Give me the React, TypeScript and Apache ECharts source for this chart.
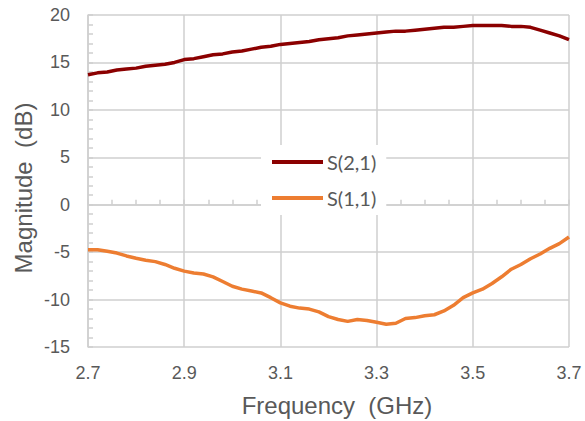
import React, { useEffect, useRef } from "react";
import * as echarts from "echarts";

const freqs: number[] = [
  2.70, 2.72, 2.74, 2.76, 2.78, 2.80, 2.82, 2.84, 2.86, 2.88,
  2.90, 2.92, 2.94, 2.96, 2.98, 3.00, 3.02, 3.04, 3.06, 3.08,
  3.10, 3.12, 3.14, 3.16, 3.18, 3.20, 3.22, 3.24, 3.26, 3.28,
  3.30, 3.32, 3.34, 3.36, 3.38, 3.40, 3.42, 3.44, 3.46, 3.48,
  3.50, 3.52, 3.54, 3.56, 3.58, 3.60, 3.62, 3.64, 3.66, 3.68,
  3.70,
];

const s21: number[] = [
  13.7, 13.9, 14.0, 14.2, 14.3, 14.4, 14.6, 14.7, 14.8, 15.0,
  15.3, 15.4, 15.6, 15.8, 15.9, 16.1, 16.2, 16.4, 16.6, 16.7,
  16.9, 17.0, 17.1, 17.2, 17.4, 17.5, 17.6, 17.8, 17.9, 18.0,
  18.1, 18.2, 18.3, 18.3, 18.4, 18.5, 18.6, 18.7, 18.7, 18.8,
  18.9, 18.9, 18.9, 18.9, 18.8, 18.8, 18.7, 18.4, 18.1, 17.8,
  17.4,
];

const s11: number[] = [
  -4.75, -4.75, -4.9, -5.1, -5.4, -5.65, -5.85, -6.0, -6.3, -6.7,
  -7.0, -7.2, -7.3, -7.6, -8.1, -8.6, -8.9, -9.1, -9.3, -9.8,
  -10.35, -10.7, -10.9, -11.0, -11.3, -11.8, -12.1, -12.3, -12.1, -12.2,
  -12.4, -12.6, -12.5, -12.0, -11.9, -11.7, -11.6, -11.2, -10.6, -9.8,
  -9.3, -8.9, -8.3, -7.6, -6.8, -6.3, -5.7, -5.2, -4.6, -4.1,
  -3.4,
];

const seriesNames: string[] = ["S(2,1)", "S(1,1)"];
const xTitle = "Frequency  (GHz)";
const yTitle = "Magnitude  (dB)";

export default function App() {
  const ref = useRef<HTMLDivElement>(null);
  useEffect(() => {
    document.body.style.margin = "0";
    if (!ref.current) return;
    const chart = echarts.init(ref.current, undefined, { renderer: "svg" });
    const gridColor = "#cfcfcf";
    const labelColor = "#595959";
    const axisFont = "Liberation Sans, Arial, sans-serif";
    chart.setOption({
      animation: false,
      backgroundColor: "#ffffff",
      grid: { left: 88, right: 16, top: 15, bottom: 74, containLabel: false },
      xAxis: {
        type: "value",
        min: 2.7,
        max: 3.7,
        interval: 0.2,
        axisLine: { show: true, lineStyle: { color: gridColor, width: 1.5 } },
        axisTick: { show: true, inside: true, length: 5, lineStyle: { color: gridColor, width: 1.5 } },
        minorTick: { show: true, splitNumber: 4, length: 5, lineStyle: { color: gridColor, width: 1.5 } },
        splitLine: { show: true, lineStyle: { color: gridColor, width: 1.5 } },
        axisLabel: {
          color: labelColor,
          fontSize: 18,
          fontFamily: axisFont,
          margin: 17,
          formatter: (v: number) => v.toFixed(1),
        },
      },
      yAxis: {
        type: "value",
        min: -15,
        max: 20,
        interval: 5,
        axisLine: { show: true, lineStyle: { color: gridColor, width: 1.5 } },
        axisTick: { show: true, inside: true, length: 5, lineStyle: { color: gridColor, width: 1.5 } },
        minorTick: { show: true, splitNumber: 5, length: 5, lineStyle: { color: gridColor, width: 1.5 } },
        splitLine: { show: true, lineStyle: { color: gridColor, width: 1.5 } },
        axisLabel: {
          color: labelColor,
          fontSize: 18,
          fontFamily: axisFont,
          margin: 18,
        },
      },
      legend: {
        show: true,
        orient: "vertical",
        left: 261,
        top: 145,
        backgroundColor: "#ffffff",
        padding: [7, 10, 7, 11],
        itemGap: 16,
        itemWidth: 51,
        itemHeight: 4,
        icon: "rect",
        textStyle: {
          color: labelColor,
          fontSize: 20,
          fontFamily: "Lato, Open Sans, sans-serif",
          lineHeight: 20,
          padding: [0, 0, 0, -1],
        },
        data: seriesNames,
      },
      graphic: [
        {
          type: "text",
          x: 337,
          y: 405,
          style: {
            text: xTitle,
            fill: labelColor,
            fontSize: 24,
            fontFamily: axisFont,
            align: "center",
            verticalAlign: "middle",
          },
        },
        {
          type: "text",
          x: 23,
          y: 188,
          rotation: Math.PI / 2,
          style: {
            text: yTitle,
            fill: labelColor,
            fontSize: 24,
            fontFamily: axisFont,
            align: "center",
            verticalAlign: "middle",
          },
        },
      ],
      series: [
        {
          name: seriesNames[0],
          type: "line",
          data: freqs.map((f, i) => [f, s21[i]]),
          showSymbol: false,
          symbol: "none",
          lineStyle: { color: "#8b0000", width: 3.5 },
          itemStyle: { color: "#8b0000" },
          z: 3,
        },
        {
          name: seriesNames[1],
          type: "line",
          data: freqs.map((f, i) => [f, s11[i]]),
          showSymbol: false,
          symbol: "none",
          lineStyle: { color: "#ed7d31", width: 3.5 },
          itemStyle: { color: "#ed7d31" },
          z: 3,
        },
      ],
    });
    return () => chart.dispose();
  }, []);
  return <div ref={ref} style={{ width: 585, height: 421 }} />;
}
